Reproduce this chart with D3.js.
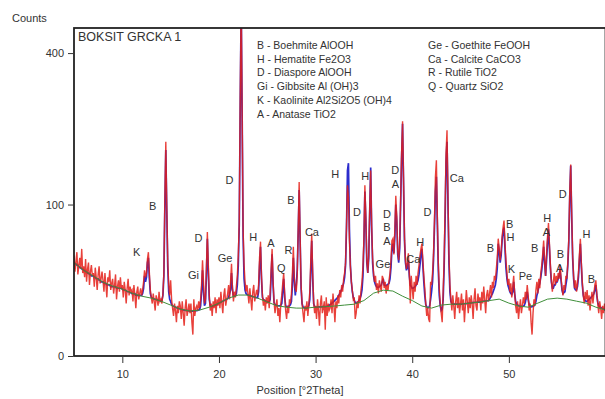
<!DOCTYPE html>
<html>
<head>
<meta charset="utf-8">
<script src="https://cdn.jsdelivr.net/npm/d3@7"></script>
<style>
  body { margin: 0; background: #fff; }
  svg { display: block; font-family: "Liberation Sans", Arial, sans-serif; }
  .lbl { font-size: 11px; fill: #333; }
</style>
</head>
<body>
<svg id="chart" width="605" height="399"></svg>
<script>
// scan grid: 5 .. 60 deg 2Theta, 0.1 deg step
const scanStart = 5, scanStep = 0.1;

// observed counts (red), one row per degree
const observed = [
  44,31,39,47,29,36,42,33,50,30,
  35,27,41,24,33,38,22,31,36,28,
  30,21,34,27,19,29,35,23,26,31,
  25,18,30,22,15,27,24,32,19,23,
  26,17,22,29,14,21,25,18,27,20,
  22,15,24,19,12,20,26,16,21,18,
  19,13,22,16,10,18,21,14,17,20,
  16,19,24,32,27,30,41,47,30,19,
  15,12,17,13,9,16,14,11,18,13,
  14,12,17,30,105,200,98,40,22,16,
  25,14,10,7,12,9,5,11,8,13,
  11,6,13,8,4,10,14,7,9,12,
  8,12,5,2,14,7,10,11,9,13,
  10,14,22,40,24,12,14,34,67,36,
  16,9,12,7,13,10,15,8,14,11,
  15,10,18,12,8,16,20,11,14,17,
  22,14,24,37,20,13,18,15,21,28,
  44,80,290,560,260,70,36,24,18,22,
  17,12,20,14,9,18,22,13,16,19,
  16,22,42,57,28,16,11,14,9,15,
  12,16,10,18,33,50,25,13,8,11,
  14,7,10,5,12,16,23,30,17,9,
  6,11,8,14,12,17,30,52,26,20,
  18,28,70,132,62,22,12,8,5,11,
  9,13,7,12,18,40,65,30,13,8,
  11,6,14,9,4,12,16,8,10,13,
  3,15,7,12,9,10,14,8,17,11,
  5,13,10,16,12,19,15,22,18,26,
  30,38,75,127,110,58,35,24,19,14,
  15,6,8,13,10,16,12,19,24,35,
  60,127,85,40,30,45,95,150,75,42,
  30,24,28,19,23,17,25,21,18,28,
  26,20,24,17,22,19,25,30,40,58,
  60,45,70,112,85,48,40,55,110,180,
  240,140,62,40,33,38,46,30,12,28,
  20,14,24,18,28,22,30,36,44,50,
  55,40,28,20,12,7,10,6,5,24,
  22,30,45,80,140,167,85,38,20,12,
  8,5,18,40,95,180,222,110,45,22,
  14,9,16,11,6,13,18,10,15,8,
  12,17,9,14,5,11,19,13,8,15,
  10,16,12,6,14,20,11,9,17,13,
  15,9,18,12,21,14,8,16,19,13,
  17,22,15,24,20,28,25,33,42,60,
  50,40,48,62,72,80,55,40,30,22,
  26,18,23,15,21,28,17,11,8,13,
  6,10,14,8,11,15,12,18,14,22,
  16,9,12,5,2,8,14,11,19,24,
  17,26,20,30,36,45,58,40,28,45,
  62,77,55,36,25,18,24,30,22,28,
  24,30,26,36,27,20,16,22,19,28,
  26,38,60,118,160,90,45,28,20,25,
  18,23,30,45,60,38,24,16,12,18,
  14,19,11,16,9,14,18,12,17,22,
  25,17,12,8,13,10,6,11,8,12,
  9
];

// calculated profile (blue), same grid
const calculated = [
  38,37,37,36,36,35,34,34,33,33,
  32,32,31,31,30,30,29,29,28,28,
  28,27,27,26,26,26,25,25,24,24,
  24,23,23,23,22,22,22,22,21,21,
  21,21,21,21,20,20,20,20,20,20,
  19.5,19,19,19,18.6,18,18,18,17.6,17.4,
  17,17,17,17,16,16,16,16,16,16,
  16,17,20,28,24,27,38,42,26,17,
  15,14.6,14.4,14.2,14,14,13.8,13.6,13.5,13.3,
  13.1,13.5,16,28,95,185,92,35,18,14,
  13,11.5,11,10.8,10.6,10.4,10.2,10,9.9,9.8,
  9.6,9.5,9.4,9.3,9.2,9.1,9.1,9,9,8.9,
  8.8,8.8,8.8,8.8,8.9,8.9,9,9,9.1,9.2,
  9.4,11,18,32,18,11,12,28,60,30,
  14,11,10.6,10.7,10.9,11,11.2,11.4,11.6,12,
  12.2,12.4,12.6,12.9,13.1,13.3,13.5,13.8,14,14.3,
  15,17,19,30,19,15.5,15.6,15.8,17,22,
  36,75,270,540,250,62,26,19,17,16.5,
  16.2,16,15.9,15.7,15.6,15.4,15.3,15.1,15,14.8,
  14.8,18,35,52,26,15,13.8,13.6,13.3,13,
  12.8,12.8,12.8,14,28,45,22,12.5,11.5,11.3,
  11.1,11,11,11,11.2,12,18,26,15,11,
  10.6,10.6,10.7,11,11.5,13,22,42,24,16,
  22,32,65,120,58,20,12,10.5,10.2,10,
  10,10,10.2,11,14,32,58,26,12,10.5,
  10.4,10.4,10.4,10.5,10.5,10.5,10.5,10.6,10.6,10.6,
  10.6,10.7,10.8,11,11.2,11.5,11.8,12.2,12.6,13,
  13.5,14,14.5,15,16,17,18,19.5,21,23,
  27,36,72,150,162,70,36,24,18,15,
  13.5,12.5,12.2,12.4,12.8,13.5,14.5,16,19,28,
  55,118,80,38,30,42,90,155,72,38,
  28,24,22,21,20.5,20.5,21,21.5,22,24,
  26,22,21.5,21.5,22,22.5,23,26,34,50,
  55,46,62,100,80,45,38,50,100,170,
  235,130,58,38,32,34,40,28,22,21,
  20,20,20.5,21,22,23,25,29,36,45,
  50,36,24,16,11.5,10.5,10.2,10.2,11,14,
  18,24,40,72,118,140,75,32,16,11,
  9,9.5,14,34,80,165,200,100,38,18,
  13,12,11.8,11.7,11.7,11.7,11.7,11.7,11.7,11.7,
  11.7,11.7,11.8,11.8,11.9,12,12,12.1,12.1,12.2,
  12.2,12.3,12.4,12.4,12.5,12.5,12.6,12.6,12.7,12.7,
  12.7,12.8,12.9,13,13.1,13.1,13.2,13.3,13.3,13.4,
  14,15,16,17,18.5,20,22,26,34,55,
  48,38,44,58,68,72,50,34,26,22,
  20,18,17,16.5,18,24,17,13,11.8,11.4,
  11,10.9,10.8,10.8,10.7,10.8,11.2,12.5,15,18,
  14,11.5,10.6,10.5,10.6,10.8,11,11.5,13,16,
  18,21,23,27,32,40,52,38,28,40,
  56,70,50,33,24,20,20,22,22,24,
  24,26,28,32,25,19,17,17.5,18,22,
  26,36,56,110,158,85,42,26,20,19,
  19,21,27,40,55,35,22,16,14,13.5,
  13,13,13.5,14,14.5,15,15.5,16,17,19,
  22,16,12.5,11,10.5,10.2,10,9.8,9.6,9.4,
  9.2
];

// background (green)
const bgPos = [5,6,7,8,9,10,11,12,13,14,15,16,17,18,19,20,21,22,23,24,25,26,27,28,29,30,
  31,32,33,34,35,36,37,38,39,40,41,42,43,44,45,46,47,48,49,50,51,52,53,54,55,56,57,58,59,60];
const bgCounts = [38,32,27.8,23.8,21.3,19.5,17.2,15.6,14.6,13.1,11.3,9.6,8.8,9.2,10.4,12.2,14.6,16.2,16.2,14.6,12.7,11,10.4,10,10,10.4,
  10.6,10.9,11.3,11.7,13.4,17.2,18.9,18.4,15.6,13.4,10.9,10,11.3,11.7,11.7,12.2,12.7,13.4,14.1,12.2,10.9,10.4,12.2,14.1,14.6,14.1,13.1,12.2,10.4,9.2];

// phase marks: text, position (deg), counts
const markText = ["K","B","D","Gi","Ge","D","H","A","R","Q","B","Ca","H","D","H","Ge",
  "D","B","A","D","A","Ca","H","D","Ca","B","B","H","K","Pe","B","H","A","B","A","D","H","B"];
const markPos = [11.49,13.15,17.87,17.36,20.64,21.09,23.54,25.37,27.2,26.44,27.44,29.62,32.03,34.28,35.14,36.97,
  37.39,37.39,37.39,38.25,38.25,40.11,40.84,41.59,44.62,48.09,50.09,50.16,50.26,51.71,52.67,53.96,53.89,55.34,55.27,55.58,58.03,58.55];
const markCounts = [47.3,97.8,61.2,28.5,41.5,135.7,62.1,55.2,48.8,33.6,105.7,67.1,143.9,90.5,140.8,36.8,
  88.5,72.6,57.8,151.5,129.6,40.9,56.8,90.5,138.8,50.4,75.7,61.8,32.7,27.8,50.4,83.6,67.1,45.2,33.4,114,65.4,25.6];

const legendLeft = ["B - Boehmite AlOOH","H - Hematite Fe2O3","D - Diaspore AlOOH",
  "Gi - Gibbsite Al (OH)3","K - Kaolinite Al2Si2O5 (OH)4","A - Anatase TiO2"];
const legendRight = ["Ge - Goethite FeOOH","Ca - Calcite CaCO3","R - Rutile TiO2","Q - Quartz SiO2"];

const xTicks = [10,20,30,40,50];
const yTicks = [0,100,400];

const svg = d3.select("#chart");
const L = 74, T = 28, R = 605.5, B = 356;

const x = d3.scaleLinear().domain([5, 60]).range([L, R]);
const y = d3.scaleSqrt().domain([0, 469]).range([B, T]);

svg.append("rect").attr("width", 605).attr("height", 399).attr("fill", "#fff");

svg.append("clipPath").attr("id", "plotclip")
  .append("rect").attr("x", L).attr("y", T).attr("width", R - L).attr("height", B - T);

const plot = svg.append("g").attr("clip-path", "url(#plotclip)");

const line = d3.line()
  .x((d, i) => x(scanStart + i * scanStep))
  .y(d => y(d));

plot.append("path").datum(calculated)
  .attr("d", line).attr("fill", "none")
  .attr("stroke", "#2c2ccc").attr("stroke-width", 1.7);

plot.append("path").datum(observed)
  .attr("d", line).attr("fill", "none")
  .attr("stroke", "#e41e18").attr("stroke-width", 1.4).attr("stroke-opacity", 0.85);

plot.append("path").datum(bgPos.map((p, i) => [p, bgCounts[i]]))
  .attr("d", d3.line().x(d => x(d[0])).y(d => y(d[1])))
  .attr("fill", "none").attr("stroke", "#3f8f3a").attr("stroke-width", 1);

// frame
svg.append("rect").attr("x", L).attr("y", T).attr("width", R - L).attr("height", B - T)
  .attr("fill", "none").attr("stroke", "#222").attr("stroke-width", 1.8);

// axes
const gx = svg.append("g").attr("transform", `translate(0,${B + 1})`);
gx.call(d3.axisBottom(x).tickValues(d3.range(6, 60, 1)).tickSize(3).tickFormat(""));
gx.call(d3.axisBottom(x).tickValues(xTicks).tickSize(6).tickPadding(7));
gx.selectAll(".domain").remove();
gx.selectAll("line").attr("stroke", "#333");
gx.selectAll("text").attr("class", "lbl").attr("font-size", null).attr("font-family", null);

const gy = svg.append("g").attr("transform", `translate(${L - 1},0)`);
gy.call(d3.axisLeft(y).tickValues(yTicks).tickSize(5).tickPadding(4));
gy.selectAll(".domain").remove();
gy.selectAll("line").attr("stroke", "#333");
gy.selectAll("text").attr("class", "lbl").attr("font-size", null).attr("font-family", null);

svg.append("text").attr("class", "lbl").attr("x", 12).attr("y", 22).text("Counts");
svg.append("text").attr("class", "lbl").attr("x", 300).attr("y", 394)
  .attr("text-anchor", "middle").text("Position [°2Theta]");

svg.append("text").attr("class", "lbl").style("font-size", "12.5px")
  .attr("x", 78).attr("y", 41).text("BOKSIT GRCKA 1");

svg.selectAll(".legL").data(legendLeft).enter().append("text")
  .attr("class", "lbl").style("font-size", "10.5px")
  .attr("x", 257).attr("y", (d, i) => 49 + i * 13.7).text(d => d);
svg.selectAll(".legR").data(legendRight).enter().append("text")
  .attr("class", "lbl").style("font-size", "10.5px")
  .attr("x", 428).attr("y", (d, i) => 49 + i * 13.7).text(d => d);

// phase letters
svg.append("g").selectAll("text").data(markText).enter().append("text")
  .attr("class", "lbl").style("font-size", "11px")
  .attr("text-anchor", "middle").attr("dominant-baseline", "central")
  .attr("x", (d, i) => x(markPos[i])).attr("y", (d, i) => y(markCounts[i]))
  .text(d => d);
</script>
</body>
</html>
